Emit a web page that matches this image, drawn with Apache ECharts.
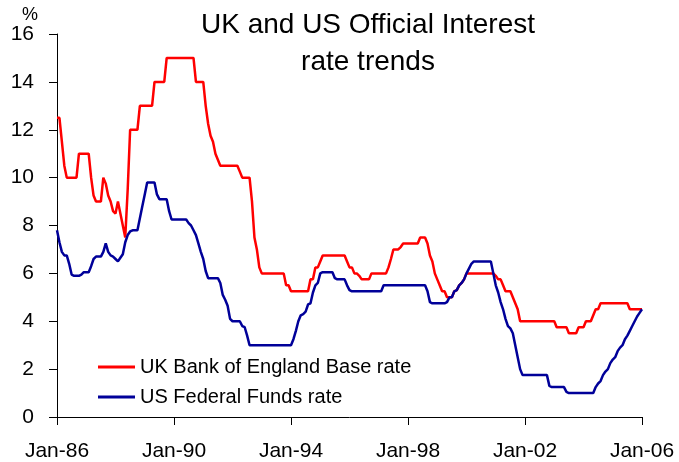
<!DOCTYPE html>
<html>
<head>
<meta charset="utf-8">
<script src="https://cdn.jsdelivr.net/npm/echarts@6/dist/echarts.min.js"></script>
</head>
<body style="margin:0; background:#fff">
<div id="container" style="width:679px; height:462px"></div>
<script type="text/javascript">
    // monthly values, Jan-86 .. Jan-06 (one row per year)
    var ukRate = [
        12.5, 12.5, 11.5, 10.5, 10, 10, 10, 10, 10, 11, 11, 11,           // 1986
        11, 11, 10, 9.25, 9, 9, 9, 10, 9.75, 9.25, 9, 8.6,                 // 1987
        8.5, 9, 8.5, 8, 7.5, 9.5, 12, 12, 12, 12, 13, 13,                  // 1988
        13, 13, 13, 13, 14, 14, 14, 14, 14, 15, 15, 15,                    // 1989
        15, 15, 15, 15, 15, 15, 15, 15, 15, 14, 14, 14,                    // 1990
        14, 13, 12.25, 11.75, 11.5, 11, 10.75, 10.5, 10.5, 10.5, 10.5, 10.5, // 1991
        10.5, 10.5, 10.5, 10.25, 10, 10, 10, 10, 9, 7.5, 7, 6.25,          // 1992
        6, 6, 6, 6, 6, 6, 6, 6, 6, 6, 5.5, 5.5,                            // 1993
        5.25, 5.25, 5.25, 5.25, 5.25, 5.25, 5.25, 5.25, 5.75, 5.75, 6.25, 6.25, // 1994
        6.5, 6.75, 6.75, 6.75, 6.75, 6.75, 6.75, 6.75, 6.75, 6.75, 6.75, 6.5, // 1995
        6.25, 6.25, 6, 6, 5.9, 5.75, 5.75, 5.75, 5.75, 6, 6, 6,            // 1996
        6, 6, 6, 6, 6.25, 6.6, 7, 7, 7, 7.1, 7.25, 7.25,                   // 1997
        7.25, 7.25, 7.25, 7.25, 7.25, 7.5, 7.5, 7.5, 7.25, 6.75, 6.5, 6,   // 1998
        5.75, 5.5, 5.25, 5.25, 5, 5, 5, 5.25, 5.3, 5.5, 5.6, 5.75,         // 1999
        6, 6, 6, 6, 6, 6, 6, 6, 6, 6, 6, 6,                                // 2000
        5.9, 5.75, 5.75, 5.5, 5.25, 5.25, 5.25, 5, 4.75, 4.5, 4, 4,        // 2001
        4, 4, 4, 4, 4, 4, 4, 4, 4, 4, 4, 4,                                // 2002
        4, 3.75, 3.75, 3.75, 3.75, 3.75, 3.5, 3.5, 3.5, 3.5, 3.75, 3.75,   // 2003
        3.75, 4, 4, 4, 4.25, 4.5, 4.5, 4.75, 4.75, 4.75, 4.75, 4.75,       // 2004
        4.75, 4.75, 4.75, 4.75, 4.75, 4.75, 4.75, 4.5, 4.5, 4.5, 4.5, 4.5, // 2005
        4.5                                                                // Jan 2006
    ];
    var usRate = [
        7.8, 7.3, 6.9, 6.75, 6.75, 6.4, 5.95, 5.9, 5.9, 5.9, 5.95, 6.05,   // 1986
        6.05, 6.05, 6.3, 6.6, 6.7, 6.7, 6.7, 6.9, 7.25, 6.9, 6.75, 6.7,    // 1987
        6.6, 6.5, 6.65, 6.8, 7.3, 7.6, 7.75, 7.8, 7.8, 7.8, 8.3, 8.8,      // 1988
        9.3, 9.8, 9.8, 9.8, 9.8, 9.3, 9.1, 9.1, 9.1, 9.1, 8.6, 8.25,       // 1989
        8.25, 8.25, 8.25, 8.25, 8.25, 8.25, 8.1, 8, 7.8, 7.6, 7.25, 6.9,   // 1990
        6.6, 6.1, 5.8, 5.8, 5.8, 5.8, 5.8, 5.6, 5.1, 4.9, 4.65, 4.1,       // 1991
        4, 4, 4, 4, 3.8, 3.75, 3.4, 3, 3, 3, 3, 3,                         // 1992
        3, 3, 3, 3, 3, 3, 3, 3, 3, 3, 3, 3,                                // 1993
        3, 3.25, 3.6, 4, 4.25, 4.3, 4.4, 4.7, 4.75, 5.2, 5.5, 5.6,         // 1994
        6, 6.05, 6.05, 6.05, 6.05, 6.05, 5.8, 5.75, 5.75, 5.75, 5.75, 5.5, // 1995
        5.3, 5.25, 5.25, 5.25, 5.25, 5.25, 5.25, 5.25, 5.25, 5.25, 5.25, 5.25, // 1996
        5.25, 5.25, 5.5, 5.5, 5.5, 5.5, 5.5, 5.5, 5.5, 5.5, 5.5, 5.5,      // 1997
        5.5, 5.5, 5.5, 5.5, 5.5, 5.5, 5.5, 5.5, 5.25, 4.8, 4.75, 4.75,     // 1998
        4.75, 4.75, 4.75, 4.75, 4.8, 5, 5, 5.25, 5.3, 5.5, 5.6, 5.75,      // 1999
        6, 6.2, 6.4, 6.5, 6.5, 6.5, 6.5, 6.5, 6.5, 6.5, 6.5, 6,            // 2000
        5.5, 5.2, 4.8, 4.5, 4.1, 3.8, 3.7, 3.5, 3, 2.5, 2, 1.75,           // 2001
        1.75, 1.75, 1.75, 1.75, 1.75, 1.75, 1.75, 1.75, 1.75, 1.75, 1.3, 1.25, // 2002
        1.25, 1.25, 1.25, 1.25, 1.25, 1.05, 1, 1, 1, 1, 1, 1,              // 2003
        1, 1, 1, 1, 1, 1.25, 1.4, 1.5, 1.75, 1.9, 2, 2.25,                 // 2004
        2.4, 2.5, 2.75, 2.9, 3, 3.25, 3.4, 3.6, 3.8, 4, 4.2, 4.35,         // 2005
        4.5                                                                // Jan 2006
    ];
    var monthNames = ['Jan', 'Feb', 'Mar', 'Apr', 'May', 'Jun', 'Jul', 'Aug', 'Sep', 'Oct', 'Nov', 'Dec'];
    var years = ['86', '87', '88', '89', '90', '91', '92', '93', '94', '95',
                 '96', '97', '98', '99', '00', '01', '02', '03', '04', '05', '06'];
    var seriesNames = ['UK Bank of England Base rate', 'US Federal Funds rate'];

    // category axis: one slot per month, ticks/labels every 4 years
    var months = [];
    for (var i = 0; i < ukRate.length; i++) {
        months.push(monthNames[i % 12] + '-' + years[Math.floor(i / 12)]);
    }

    var font = 'Liberation Sans';
    var myChart = echarts.init(document.getElementById('container'), null, {renderer: 'canvas'});
    var option = {
        animation: false,
        backgroundColor: '#fff',
        title: {
            text: 'UK and US Official Interest\nrate trends',
            left: 363,
            top: 2,
            textAlign: 'center',
            textStyle: {
                fontFamily: font,
                fontSize: 28,
                fontWeight: 'normal',
                lineHeight: 37,
                color: '#000'
            }
        },
        legend: {
            orient: 'vertical',
            left: 93,
            top: 352,
            itemGap: 10,
            itemWidth: 37,
            itemHeight: 3,
            icon: 'rect',
            data: seriesNames,
            textStyle: {fontFamily: font, fontSize: 20, lineHeight: 20, color: '#000'}
        },
        grid: {left: 57, right: 37, top: 34, bottom: 44},
        xAxis: {
            type: 'category',
            data: months,
            boundaryGap: false,
            axisLine: {lineStyle: {color: '#000', width: 1}},
            axisTick: {interval: 47, length: 8, lineStyle: {color: '#000'}},
            axisLabel: {
                interval: 47,
                margin: 24,
                fontFamily: font,
                fontSize: 21,
                color: '#000'
            },
            splitLine: {show: false}
        },
        yAxis: {
            type: 'value',
            min: 0,
            max: 16,
            interval: 2,
            name: '%',
            nameGap: 3,
            nameTextStyle: {
                fontFamily: font,
                fontSize: 18,
                color: '#000',
                align: 'right',
                padding: [0, 19, 0, 0]
            },
            axisLine: {show: true, lineStyle: {color: '#000', width: 1}},
            axisTick: {show: true, length: 8, lineStyle: {color: '#000'}},
            axisLabel: {margin: 23, fontFamily: font, fontSize: 21, color: '#000'},
            splitLine: {show: false}
        },
        series: [
            {
                name: seriesNames[0],
                type: 'line',
                data: ukRate,
                symbol: 'none',
                color: '#ff0000',
                lineStyle: {width: 2.5, color: '#ff0000'}
            },
            {
                name: seriesNames[1],
                type: 'line',
                data: usRate,
                symbol: 'none',
                color: '#000099',
                lineStyle: {width: 2.5, color: '#000099'}
            }
        ]
    };
    myChart.setOption(option);
</script>
</body>
</html>
